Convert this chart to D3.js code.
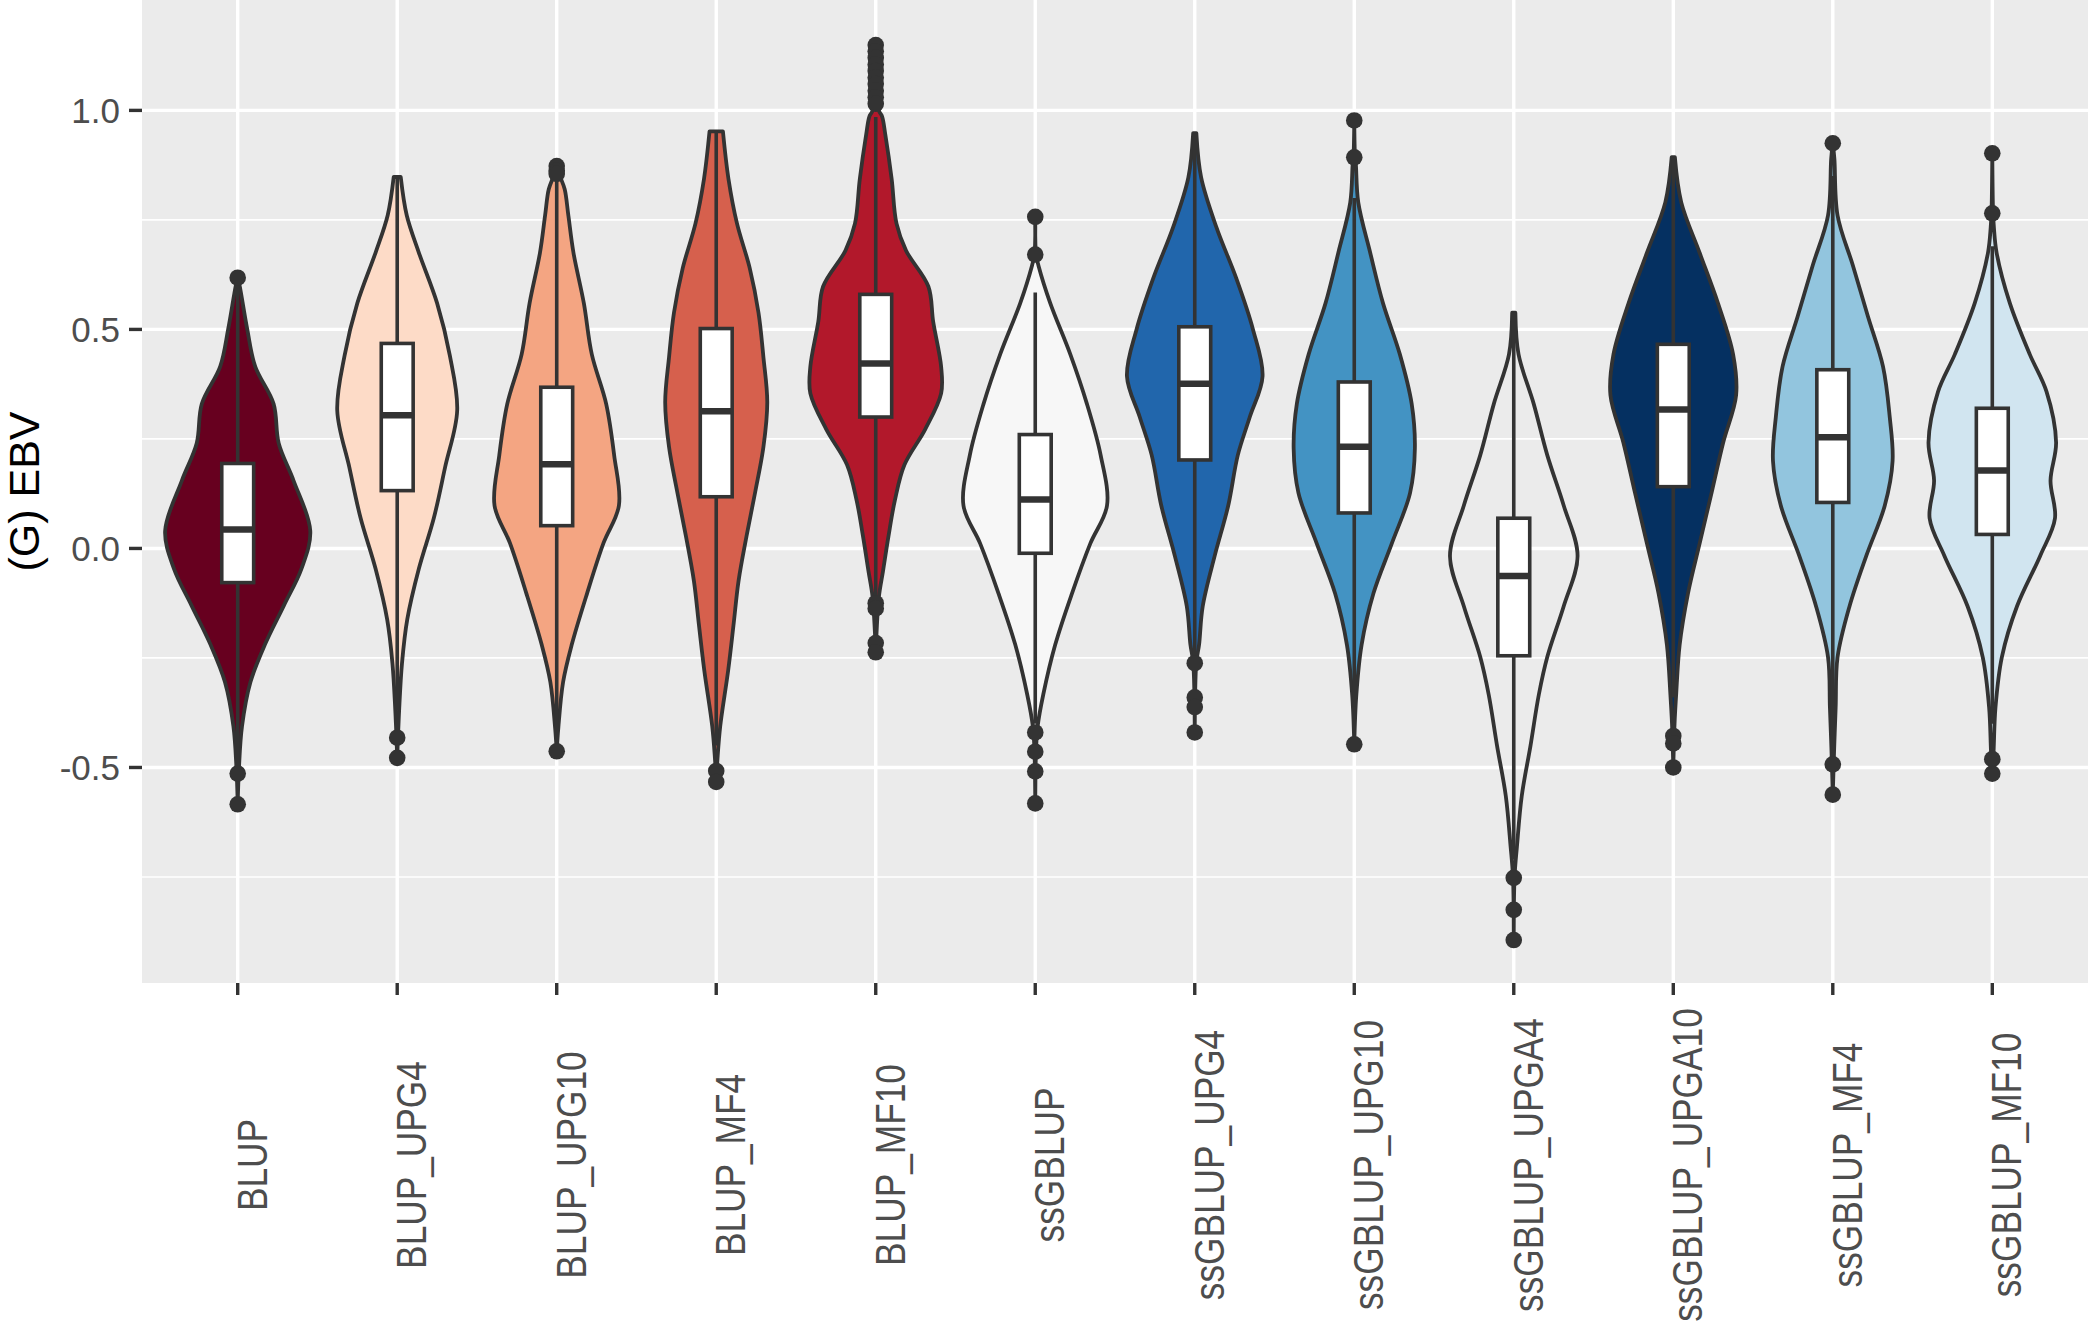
<!DOCTYPE html>
<html>
<head>
<meta charset="utf-8">
<script src="https://cdn.jsdelivr.net/npm/d3@7"></script>
<style>
  html, body { margin: 0; padding: 0; background: #ffffff; }
  svg { display: block; }
</style>
</head>
<body>
<script>
// ---------------- DATA ----------------
const categories = ["BLUP","BLUP_UPG4","BLUP_UPG10","BLUP_MF4","BLUP_MF10","ssGBLUP",
  "ssGBLUP_UPG4","ssGBLUP_UPG10","ssGBLUP_UPGA4","ssGBLUP_UPGA10","ssGBLUP_MF4","ssGBLUP_MF10"];

const fillColors = ["#67001f","#fddbc7","#f4a582","#d6604d","#b2182b","#f7f7f7",
  "#2166ac","#4393c3","none","#053061","#92c5de","#d1e5f0"];

const q1          = [-0.078, 0.132, 0.052, 0.118, 0.300, -0.011, 0.202, 0.081, -0.245, 0.141, 0.105, 0.032];
const median      = [ 0.043, 0.304, 0.192, 0.313, 0.422,  0.112, 0.376, 0.232, -0.063, 0.317, 0.254, 0.178];
const q3          = [ 0.194, 0.468, 0.368, 0.502, 0.580,  0.260, 0.506, 0.380,  0.069, 0.466, 0.408, 0.320];
const whiskerLow  = [-0.490,-0.370,-0.410,-0.450,-0.110, -0.400,-0.250,-0.360, -0.710,-0.340,-0.460,-0.400];
const whiskerHigh = [ 0.600, 0.845, 0.840, 0.952, 0.985,  0.584, 0.948, 0.800,  0.538, 0.893, 0.850, 0.690];

const outliers = [
  [0.618, -0.514, -0.584],
  [-0.432, -0.478],
  [0.873, 0.862, 0.855, -0.463],
  [-0.508, -0.533],
  [1.149, 1.135, 1.120, 1.105, 1.090, 1.075, 1.060, 1.045, 1.030, 1.015, -0.125, -0.137, -0.216, -0.237],
  [0.757, 0.671, -0.420, -0.464, -0.509, -0.582],
  [-0.262, -0.340, -0.362, -0.420],
  [0.977, 0.893, -0.447],
  [-0.752, -0.825, -0.894],
  [-0.428, -0.445, -0.500],
  [0.925, -0.493, -0.562],
  [0.902, 0.765, -0.481, -0.514]
];

// violin profiles: [EBV value, relative half-width of the density]
const violinProfiles = [
  [[0.618,0],[0.60,0.012],[0.50,0.06],[0.415,0.11],[0.33,0.225],[0.24,0.257],[0.155,0.35],[0.04,0.455],[-0.046,0.40],[-0.13,0.29],[-0.22,0.17],[-0.305,0.08],[-0.406,0.027],[-0.50,0.008],[-0.584,0]],
  [[0.848,0.022],[0.76,0.06],[0.675,0.136],[0.56,0.25],[0.44,0.33],[0.315,0.376],[0.185,0.30],[0.07,0.23],[-0.046,0.136],[-0.162,0.063],[-0.262,0.03],[-0.37,0.012],[-0.478,0]],
  [[0.873,0],[0.85,0.02],[0.82,0.05],[0.76,0.073],[0.675,0.105],[0.56,0.17],[0.443,0.22],[0.33,0.31],[0.213,0.36],[0.098,0.39],[0.012,0.293],[-0.103,0.19],[-0.22,0.094],[-0.305,0.04],[-0.41,0.01],[-0.463,0]],
  [[0.952,0.042],[0.843,0.077],[0.742,0.13],[0.64,0.21],[0.538,0.265],[0.436,0.296],[0.334,0.32],[0.232,0.296],[0.13,0.245],[0.028,0.19],[-0.074,0.14],[-0.176,0.108],[-0.278,0.075],[-0.406,0.025],[-0.48,0.008],[-0.533,0]],
  [[1.149,0],[1.0,0.02],[0.986,0.04],[0.945,0.06],[0.843,0.1],[0.742,0.13],[0.68,0.19],[0.598,0.33],[0.518,0.36],[0.415,0.41],[0.354,0.41],[0.272,0.31],[0.191,0.18],[0.11,0.12],[0.028,0.08],[-0.053,0.045],[-0.11,0.02],[-0.237,0]],
  [[0.757,0],[0.671,0.005],[0.646,0.02],[0.56,0.094],[0.443,0.22],[0.33,0.324],[0.213,0.41],[0.098,0.45],[0.011,0.345],[-0.103,0.23],[-0.22,0.125],[-0.334,0.05],[-0.406,0.015],[-0.46,0.005],[-0.582,0]],
  [[0.948,0.01],[0.847,0.04],[0.733,0.136],[0.617,0.26],[0.50,0.365],[0.393,0.425],[0.30,0.345],[0.213,0.27],[0.098,0.21],[-0.017,0.125],[-0.132,0.05],[-0.22,0.027],[-0.26,0.01],[-0.42,0]],
  [[0.977,0],[0.893,0.005],[0.877,0.01],[0.79,0.025],[0.675,0.10],[0.56,0.18],[0.443,0.286],[0.33,0.36],[0.228,0.38],[0.127,0.35],[0.011,0.235],[-0.103,0.12],[-0.22,0.046],[-0.334,0.013],[-0.447,0]],
  [[0.538,0.01],[0.443,0.03],[0.33,0.125],[0.213,0.21],[0.098,0.313],[-0.017,0.40],[-0.132,0.313],[-0.248,0.21],[-0.334,0.157],[-0.45,0.105],[-0.565,0.05],[-0.68,0.02],[-0.75,0.005],[-0.894,0]],
  [[0.893,0.01],[0.79,0.05],[0.675,0.165],[0.56,0.28],[0.443,0.375],[0.35,0.394],[0.242,0.313],[0.127,0.24],[0.011,0.165],[-0.103,0.092],[-0.22,0.04],[-0.334,0.018],[-0.40,0.008],[-0.50,0]],
  [[0.925,0],[0.89,0.01],[0.76,0.03],[0.646,0.126],[0.53,0.22],[0.415,0.315],[0.30,0.357],[0.20,0.375],[0.098,0.326],[-0.017,0.21],[-0.132,0.105],[-0.248,0.03],[-0.363,0.018],[-0.464,0.008],[-0.562,0]],
  [[0.902,0],[0.765,0.005],[0.733,0.01],[0.675,0.027],[0.56,0.11],[0.443,0.235],[0.358,0.34],[0.242,0.40],[0.155,0.365],[0.069,0.393],[-0.017,0.30],[-0.132,0.155],[-0.248,0.06],[-0.363,0.02],[-0.464,0.008],[-0.514,0]]
];

const yMajorTicks = [-0.5, 0.0, 0.5, 1.0];
const yTickLabels = ["-0.5", "0.0", "0.5", "1.0"];
const yMinorTicks = [-0.75, -0.25, 0.25, 0.75];
const yTitle = "(G) EBV";
const yDomain = [-0.992, 1.252];

// ---------------- LAYOUT ----------------
const W = 2091, H = 1329;
const panel = { left: 142, right: 2088, top: 0, bottom: 983 };
const ink = "#333333";

const svg = d3.select("body").append("svg")
  .attr("width", W).attr("height", H)
  .style("font-family", "'Liberation Sans', Arial, Helvetica, sans-serif");

svg.append("rect").attr("width", W).attr("height", H).attr("fill", "#ffffff");

const x = d3.scalePoint().domain(categories).range([panel.left, panel.right]).padding(0.6);
const step = x.step();
const y = d3.scaleLinear().domain(yDomain).range([panel.bottom, panel.top]);

// panel background
svg.append("rect")
  .attr("x", panel.left).attr("y", panel.top)
  .attr("width", panel.right - panel.left).attr("height", panel.bottom - panel.top)
  .attr("fill", "#ebebeb");

const grid = svg.append("g");
grid.selectAll("line.minor").data(yMinorTicks).join("line")
  .attr("x1", panel.left).attr("x2", panel.right)
  .attr("y1", d => y(d)).attr("y2", d => y(d))
  .attr("stroke", "#ffffff").attr("stroke-width", 1.7);
grid.selectAll("line.major").data(yMajorTicks).join("line")
  .attr("x1", panel.left).attr("x2", panel.right)
  .attr("y1", d => y(d)).attr("y2", d => y(d))
  .attr("stroke", "#ffffff").attr("stroke-width", 3.4);
grid.selectAll("line.vmajor").data(categories).join("line")
  .attr("x1", d => x(d)).attr("x2", d => x(d))
  .attr("y1", panel.top).attr("y2", panel.bottom)
  .attr("stroke", "#ffffff").attr("stroke-width", 3.4);

// violins
const edge = d3.line().x(d => d[0]).y(d => d[1]).curve(d3.curveCatmullRom.alpha(0.5));
const violins = svg.append("g");
categories.forEach((c, i) => {
  const cx = x(c);
  const prof = violinProfiles[i];
  const right = prof.map(p => [cx + p[1] * step, y(p[0])]);
  const left = prof.slice().reverse().map(p => [cx - p[1] * step, y(p[0])]);
  const d = edge(right) + "L" + edge(left).slice(1) + "Z";
  violins.append("path")
    .attr("d", d)
    .attr("fill", fillColors[i])
    .attr("stroke", ink)
    .attr("stroke-width", 3.8)
    .attr("stroke-linejoin", "round");
});

// boxplots
const boxW = 0.2 * step;
const boxes = svg.append("g");
categories.forEach((c, i) => {
  const cx = x(c);
  boxes.append("line")
    .attr("x1", cx).attr("x2", cx)
    .attr("y1", y(q3[i])).attr("y2", y(whiskerHigh[i]))
    .attr("stroke", ink).attr("stroke-width", 3.6);
  boxes.append("line")
    .attr("x1", cx).attr("x2", cx)
    .attr("y1", y(q1[i])).attr("y2", y(whiskerLow[i]))
    .attr("stroke", ink).attr("stroke-width", 3.6);
  boxes.append("rect")
    .attr("x", cx - boxW / 2).attr("width", boxW)
    .attr("y", y(q3[i])).attr("height", y(q1[i]) - y(q3[i]))
    .attr("fill", "#ffffff").attr("stroke", ink).attr("stroke-width", 3.6);
  boxes.append("line")
    .attr("x1", cx - boxW / 2).attr("x2", cx + boxW / 2)
    .attr("y1", y(median[i])).attr("y2", y(median[i]))
    .attr("stroke", ink).attr("stroke-width", 6.5);
  boxes.selectAll(null).data(outliers[i]).join("circle")
    .attr("cx", cx).attr("cy", d => y(d)).attr("r", 8.3)
    .attr("fill", ink);
});

// y axis
const yAxis = svg.append("g");
yAxis.selectAll("line").data(yMajorTicks).join("line")
  .attr("x1", panel.left - 13).attr("x2", panel.left)
  .attr("y1", d => y(d)).attr("y2", d => y(d))
  .attr("stroke", ink).attr("stroke-width", 3.4);
yAxis.selectAll("text").data(yMajorTicks).join("text")
  .attr("x", panel.left - 22).attr("y", d => y(d))
  .attr("dy", "0.35em")
  .attr("text-anchor", "end")
  .attr("font-size", 35)
  .attr("fill", "#4d4d4d")
  .text((d, i) => yTickLabels[i]);

svg.append("text")
  .attr("transform", `translate(39, ${(panel.top + panel.bottom) / 2}) rotate(-90)`)
  .attr("text-anchor", "middle")
  .attr("font-size", 43)
  .attr("fill", "#000000")
  .text(yTitle);

// x axis
const xAxis = svg.append("g");
xAxis.selectAll("line").data(categories).join("line")
  .attr("x1", d => x(d)).attr("x2", d => x(d))
  .attr("y1", panel.bottom).attr("y2", panel.bottom + 12)
  .attr("stroke", ink).attr("stroke-width", 3.4);
xAxis.selectAll("text").data(categories).join("text")
  .attr("transform", d => `translate(${x(d) + 29}, 1165) rotate(-90) scale(0.84, 1)`)
  .attr("text-anchor", "middle")
  .attr("font-size", 42)
  .attr("fill", "#4d4d4d")
  .text(d => d);
</script>
</body>
</html>
